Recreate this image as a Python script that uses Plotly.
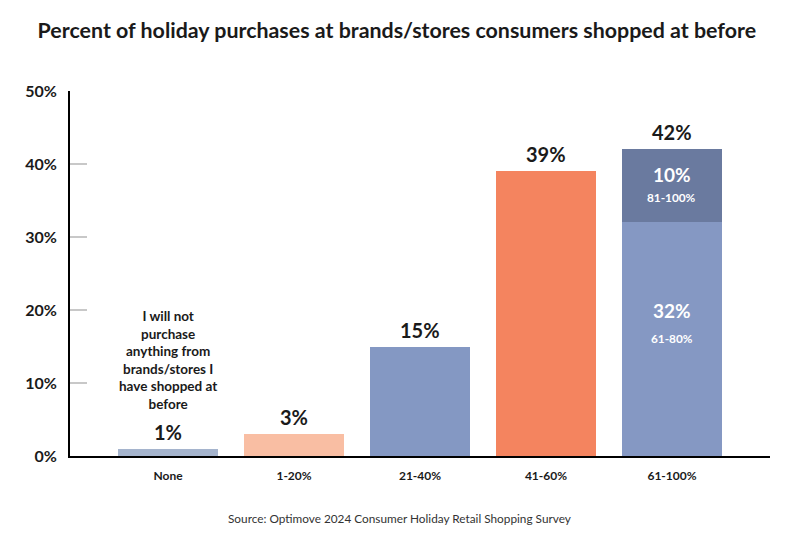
import plotly.graph_objects as go

categories = ["None", "1-20%", "21-40%", "41-60%", "61-100%"]
main_values = [1, 3, 15, 39, None]
main_colors = ["#A5B4CD", "#F9BEA3", "#8498C3", "#F4845F", "#8498C3"]
seg_low_value = 32      # 61-80%
seg_high_value = 10     # 81-100%
seg_low_label = "61-80%"
seg_high_label = "81-100%"
totals = [1, 3, 15, 39, 42]
y_ticks = [0, 10, 20, 30, 40, 50]
y_tick_labels = ["0%", "10%", "20%", "30%", "40%", "50%"]
none_note = "I will not<br>purchase<br>anything from<br>brands/stores I<br>have shopped at<br>before"
title_text = "Percent of holiday purchases at brands/stores consumers shopped at before"
source_text = "Source: Optimove 2024 Consumer Holiday Retail Shopping Survey"

FONT = "Lato"
DARK = "#1a1a1a"

fig = go.Figure()
fig.add_trace(go.Bar(x=categories, y=main_values, marker=dict(color=main_colors, line=dict(width=0)),
                     hoverinfo="skip"))
fig.add_trace(go.Bar(x=[categories[4]], y=[seg_low_value], marker=dict(color="#8598C3", line=dict(width=0)),
                     hoverinfo="skip"))
fig.add_trace(go.Bar(x=[categories[4]], y=[seg_high_value], marker=dict(color="#6A7A9F", line=dict(width=0)),
                     hoverinfo="skip"))

annotations = []
for c, t in zip(categories, totals):
    annotations.append(dict(x=c, y=t, xref="x", yref="y", text=f"<b>{t}%</b>", showarrow=False,
                            yanchor="bottom", yshift=3,
                            font=dict(family=FONT, size=20, color=DARK)))
# inside labels for stacked segments
low_mid = seg_low_value / 2
high_mid = seg_low_value + seg_high_value / 2
annotations += [
    dict(x=categories[4], y=low_mid, text=f"<b>{seg_low_value}%</b>", showarrow=False, yshift=29,
         font=dict(family=FONT, size=19, color="white")),
    dict(x=categories[4], y=low_mid, text=f"<b>{seg_low_label}</b>", showarrow=False, yshift=1,
         font=dict(family=FONT, size=11.8, color="white")),
    dict(x=categories[4], y=high_mid, text=f"<b>{seg_high_value}%</b>", showarrow=False, yshift=11,
         font=dict(family=FONT, size=19, color="white")),
    dict(x=categories[4], y=high_mid, text=f"<b>{seg_high_label}</b>", showarrow=False, yshift=-12,
         font=dict(family=FONT, size=11.8, color="white")),
]
annotations.append(dict(x=categories[0], y=totals[0], text=f"<b>{none_note}</b>", showarrow=False,
                        yanchor="bottom", yshift=35, align="center",
                        font=dict(family=FONT, size=13.5, color=DARK)))
annotations.append(dict(x=0.47, y=-0.17, xref="paper", yref="paper", yanchor="middle", text=source_text,
                        showarrow=False, font=dict(family=FONT, size=11.8, color="#333333")))

fig.update_layout(
    width=792, height=537,
    barmode="stack", bargap=0.205, showlegend=False,
    plot_bgcolor="white", paper_bgcolor="white",
    margin=dict(l=62, r=30, t=83, b=89),
    title=dict(text=f"<b>{title_text}</b>", x=0.491, xanchor="center", y=0.959, yref="container",
               yanchor="middle", font=dict(family=FONT, size=21.4, color=DARK)),
    annotations=annotations,
    xaxis=dict(range=[-0.778, 4.778], showline=True, linecolor="black", linewidth=2,
               ticks="", tickfont=dict(family=FONT, size=12, color=DARK), ticklabelstandoff=8,
               tickprefix="<b>", ticksuffix="</b>", showgrid=False, zeroline=False, fixedrange=True),
    yaxis=dict(range=[0, 50], tickvals=y_ticks, ticktext=[f"<b>{t}</b>" for t in y_tick_labels],
               showline=True, linecolor="black", linewidth=2, ticks="inside", ticklen=17,
               tickcolor="#c8c8c8", tickwidth=1.5, showgrid=False, zeroline=False,
               tickfont=dict(family=FONT, size=16, color=DARK), ticklabelstandoff=8),
)
fig.write_html("out.html")
